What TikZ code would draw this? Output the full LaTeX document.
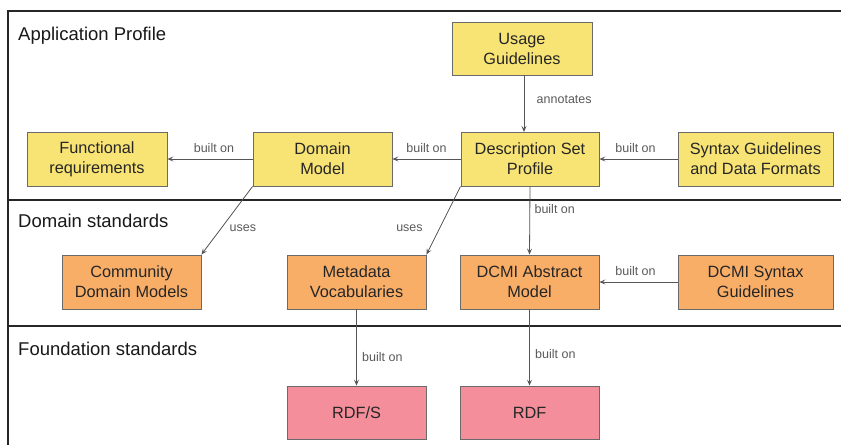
\documentclass[tikz,border=0pt]{standalone}
\usepackage{fontspec}
\setmainfont{Liberation Sans}
\usetikzlibrary{arrows.meta}
\definecolor{ylw}{HTML}{F8E474}
\definecolor{org}{HTML}{F9AE68}
\definecolor{pnk}{HTML}{F48E9A}
\definecolor{bord}{HTML}{6A6A6A}
\definecolor{edg}{HTML}{555555}
\definecolor{lbl}{HTML}{5A5A5A}
\tikzset{
  box/.style={draw=bord, line width=0.9pt, minimum height=54pt, align=center,
    inner sep=0pt, font=\fontsize{16.3}{20}\selectfont, text=black!85},
  ybox/.style={box, fill=ylw},
  obox/.style={box, fill=org},
  pbox/.style={box, fill=pnk, minimum height=53pt},
  conn/.style={draw=edg, line width=0.8pt, -{Stealth[length=6pt,width=5pt,inset=2.5pt]}},
  elbl/.style={font=\fontsize{12.5}{14}\selectfont, text=lbl},
  sect/.style={font=\fontsize{18.5}{22}\selectfont, anchor=base west, inner sep=0pt, text=black!90},
  frame/.style={draw=black!85, line width=2pt}
}
\begin{document}
\begin{tikzpicture}[x=1pt, y=-1pt]
\useasboundingbox (0,0) rectangle (841,445);
\fill[white] (0,0) rectangle (841,445);
% frame
\draw[frame] (841,11) -- (8,11) -- (8,445);
\draw[frame] (8,200) -- (841,200);
\draw[frame] (8,326) -- (841,326);
% section titles
\node[sect] (t1) at (18,40) {Application Profile};
\node[sect] (t2) at (18,227) {Domain standards};
\node[sect] (t3) at (18,355) {Foundation standards};
% boxes
\node[ybox, minimum width=140pt] (func) at (97,159) {Functional\\requirements};
\node[ybox, minimum width=139pt] (dom) at (322.5,159) {Domain\\Model};
\node[ybox, minimum width=140pt, minimum height=53pt] (usage) at (522,48.5) {Usage\\Guidelines};
\node[ybox, minimum width=138pt] (dsp) at (530,159) {Description Set\\Profile};
\node[ybox, minimum width=155pt] (syn) at (755.5,159) {Syntax Guidelines\\and Data Formats};
\node[obox, minimum width=139pt] (comm) at (131.5,282) {Community\\Domain Models};
\node[obox, minimum width=139pt] (meta) at (356.5,282) {Metadata\\Vocabularies};
\node[obox, minimum width=139pt] (dcam) at (529.5,282) {DCMI Abstract\\Model};
\node[obox, minimum width=155pt] (dcsyn) at (755.5,282) {DCMI Syntax\\Guidelines};
\node[pbox, minimum width=139pt] (rdfs) at (356.5,412.5) {RDF/S};
\node[pbox, minimum width=139pt] (rdf) at (529.5,412.5) {RDF};
% connectors
\draw[conn] (dom) -- node[elbl, above=3pt, xshift=4pt] {built on} (func);
\draw[conn] (dsp) -- node[elbl, above=3pt] {built on} (dom);
\draw[conn] (syn) -- node[elbl, above=3pt, xshift=-3pt] {built on} (dsp);
\draw[conn] (usage.south -| 524,0) -- node[elbl, right=9pt, pos=0.42] {annotates} (524,132);
\draw[conn] (dom.south west) -- node[elbl, pos=0.62, right=5pt] {uses} (comm.north east);
\draw[conn] (dsp.south west) -- node[elbl, pos=0.62, left=13pt] {uses} (meta.north east);
\draw[conn] (dsp.south) -- node[elbl, pos=0.33, right=1pt] {built on} (dcam.north);
\draw[conn] (dcsyn) -- node[elbl, above=3pt, xshift=-3pt] {built on} (dcam);
\draw[conn] (meta.south) -- node[elbl, pos=0.62, right=2pt] {built on} (rdfs.north);
\draw[conn] (dcam.south) -- node[elbl, pos=0.58, right=2pt] {built on} (rdf.north);
\end{tikzpicture}
\end{document}
